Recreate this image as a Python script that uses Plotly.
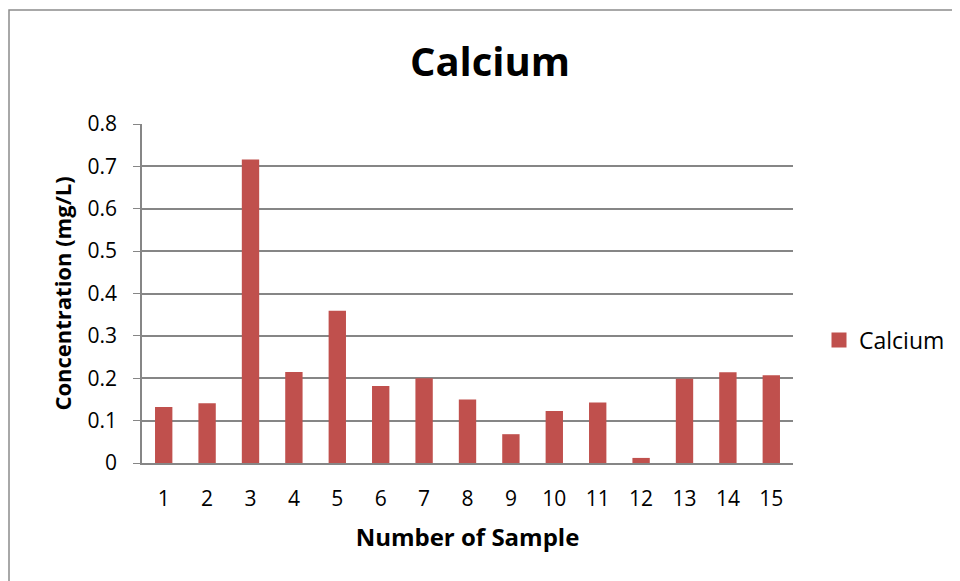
import plotly.graph_objects as go

samples = [str(i) for i in range(1, 16)]
calcium = [0.132, 0.141, 0.716, 0.215, 0.359, 0.182, 0.200, 0.150,
           0.068, 0.123, 0.143, 0.012, 0.199, 0.214, 0.207]
y_ticks = [0, 0.1, 0.2, 0.3, 0.4, 0.5, 0.6, 0.7, 0.8]
y_labels = ["0", "0.1", "0.2", "0.3", "0.4", "0.5", "0.6", "0.7", "0.8"]

FONT = "Open Sans"
OFF = 8  # page body margin
W, H = 960 - OFF, 581 - OFF
# plot area in page coords: x 142..793, y 124..463
L, T = 142 - OFF, 124 - OFF
R, B = W - (793 - OFF), H - (463 - OFF)
pw, ph = W - L - R, H - T - B
COLOR = "#C0504D"


def px_x(page_x):
    return (page_x - OFF - L) / pw


def px_y(page_y):
    return (463 - page_y) / ph


fig = go.Figure()
fig.add_trace(go.Bar(x=samples, y=calcium, name="Calcium",
                     marker=dict(color=COLOR, line=dict(width=0)),
                     showlegend=False))
fig.add_trace(go.Scatter(x=[None], y=[None], mode="markers", name="Calcium",
                         marker=dict(symbol="square", size=15, color=COLOR),
                         showlegend=True))

fig.update_layout(
    width=W, height=H,
    margin=dict(l=L, r=R, t=T, b=B, autoexpand=False),
    paper_bgcolor="white", plot_bgcolor="white",
    bargap=0.6,
    font=dict(family=FONT, color="black", size=21),
    title=dict(text="<b>Calcium</b>", x=(490 - OFF) / W, xanchor="center",
               y=1 - (62 - OFF) / H, yanchor="middle",
               font=dict(family=FONT, size=40, color="black")),
    xaxis=dict(type="category", showgrid=False, showline=True,
               linecolor="#868686", linewidth=1.5,
               ticks="outside", ticklen=16, tickcolor="rgba(0,0,0,0)",
               tickfont=dict(size=21),
               title=dict(text="<b>Number of Sample</b>", standoff=18,
                          font=dict(size=24))),
    yaxis=dict(range=[0, 0.8], tickvals=y_ticks, ticktext=y_labels,
               showgrid=True, gridcolor="#868686", gridwidth=1.5,
               showline=True, linecolor="#868686", linewidth=1.5,
               ticks="outside", ticklen=7, tickcolor="#868686",
               ticklabelstandoff=12,
               tickfont=dict(size=21), zeroline=False,
               title=dict(text="<b>Concentration (mg/L)</b>", standoff=10,
                          font=dict(size=22))),
    legend=dict(x=px_x(819), y=px_y(340), xanchor="left",
                yanchor="middle", font=dict(size=23), bgcolor="rgba(0,0,0,0)",
                itemsizing="trace", itemwidth=30),
    shapes=[dict(type="rect", xref="paper", yref="paper",
                 x0=px_x(9), x1=px_x(1000),
                 y0=px_y(650), y1=px_y(10),
                 line=dict(color="#8c8c8c", width=1.5), layer="below")],
)

fig.write_html("out.html")
